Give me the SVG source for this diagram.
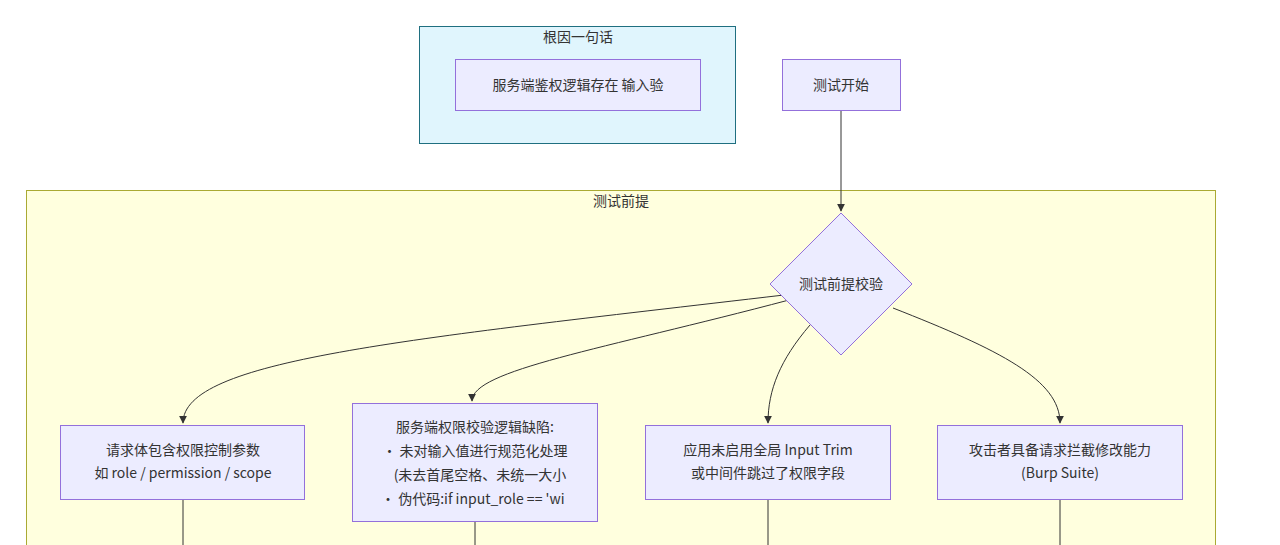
<svg xmlns="http://www.w3.org/2000/svg" width="1280" height="545" viewBox="0 0 1280 545">
<style>
text{font-family:"Noto Sans CJK SC","Liberation Sans",sans-serif;font-size:14px;fill:#333;text-anchor:middle}
.n{fill:#ececff;stroke:#9370db;stroke-width:1}
.e{fill:none;stroke:#333;stroke-width:1}
</style>
<defs>
<marker id="a" viewBox="0 0 10 10" refX="9" refY="5" markerWidth="8" markerHeight="8" orient="auto"><path d="M0,0L10,5L0,10z" fill="#333"/></marker>
</defs>
<rect width="1280" height="545" fill="#fff"/>
<g id="cluster-root"><rect x="419.5" y="26.5" width="316" height="117" fill="#e0f5fd" stroke="#1f6f80"/><text x="578" y="42">根因一句话</text></g>
<g id="cluster-pre"><rect x="26.5" y="190.5" width="1189" height="380" fill="#ffffde" stroke="#aaaa33"/><text x="621" y="206">测试前提</text></g>
<g id="edges">
<path class="e" d="M841,110V211" marker-end="url(#a)"/>
<path class="e" d="M784,295C400,340 183,360 183,423" marker-end="url(#a)"/>
<path class="e" d="M789,300C600,350 472,370 472,401" marker-end="url(#a)"/>
<path class="e" d="M810,325C780,360 768,390 768,423" marker-end="url(#a)"/>
<path class="e" d="M893,308C1000,350 1060,380 1060,423" marker-end="url(#a)"/>
<path class="e" d="M183,499V545M475,521V545M768,499V545M1060,499V545"/>
</g>
<g id="root"><rect class="n" x="455.5" y="59.5" width="245" height="51"/><text x="578" y="90">服务端鉴权逻辑存在 输入验</text></g>
<g id="start"><rect class="n" x="782.5" y="59.5" width="118" height="51"/><text x="841" y="90">测试开始</text></g>
<g id="check"><polygon class="n" points="841,213 912,284 841,355 770,284"/><text x="841" y="289">测试前提校验</text></g>
<g id="A"><rect class="n" x="60.5" y="425.5" width="244" height="74"/><text x="183" y="455">请求体包含权限控制参数</text><text x="183" y="478">如 role / permission / scope</text></g>
<g id="B"><rect class="n" x="352.5" y="403.5" width="245" height="118"/>
<text x="475" y="432">服务端权限校验逻辑缺陷:</text>
<text x="475" y="456">• 未对输入值进行规范化处理</text>
<text x="480" y="480">(未去首尾空格、未统一大小</text>
<text x="475" y="504" style="text-anchor:start" transform="translate(-94,0)">• 伪代码:if input_role == 'wi</text></g>
<g id="C"><rect class="n" x="645.5" y="425.5" width="245" height="74"/><text x="768" y="455">应用未启用全局 Input Trim</text><text x="768" y="478">或中间件跳过了权限字段</text></g>
<g id="D"><rect class="n" x="937.5" y="425.5" width="245" height="74"/><text x="1060" y="455">攻击者具备请求拦截修改能力</text><text x="1060" y="478">(Burp Suite)</text></g>
</svg>
